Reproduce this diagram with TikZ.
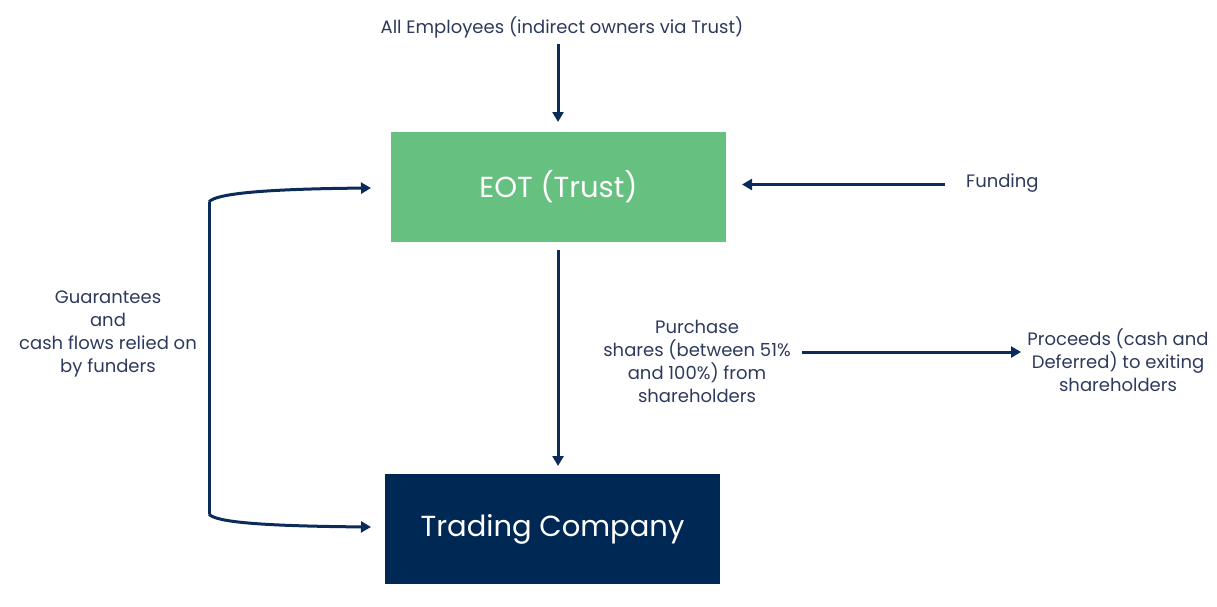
\documentclass[tikz,border=0pt]{standalone}
\usepackage{fontspec}
\setmainfont{Poppins}
\usetikzlibrary{arrows.meta}
\definecolor{navy}{HTML}{0B2C5A}
\definecolor{boxnavy}{HTML}{002855}
\definecolor{eotgreen}{HTML}{66C080}
\definecolor{txt}{HTML}{2E3A5C}
\begin{document}
\begin{tikzpicture}[x=1pt,y=-1pt,
  lbl/.style={text=txt,font=\fontsize{18}{23}\selectfont,align=center,inner sep=0pt},
  boxstyle/.style={minimum width=335pt,minimum height=110pt,inner sep=0pt,text=white,font=\fontsize{29}{32}\selectfont},
  conn/.style={draw=navy,line width=3pt,-{Triangle[length=10pt,width=11pt]}}]
\useasboundingbox (0,0) rectangle (1217,606);
\node[boxstyle,fill=eotgreen] (eot) at (558.5,187) {EOT (Trust)};
\node[boxstyle,fill=boxnavy] (tc) at (552.5,529) {Trading Company};
\node[lbl] (emp) at (562,27) {All Employees (indirect owners via Trust)};
\node[lbl,anchor=west] (fund) at (966,183) {Funding};
\node[lbl] (purch) at (697,361) {Purchase\\shares (between 51\%\\and 100\%) from\\shareholders};
\node[lbl] (proc) at (1118,360) {Proceeds (cash and\\Deferred) to exiting\\shareholders};
\node[lbl] (guar) at (108,334) {Guarantees\\and\\cash flows relied on\\by funders};
\coordinate (fundstart) at (945,184.5);
\coordinate (purchend) at (802,352);
\coordinate (bt) at (209,202);
\coordinate (bb) at (209,514);
\coordinate (et) at (371,188);
\coordinate (tt) at (371,527);
\draw[conn] (558,44) -- (558,122);
\draw[conn] (fundstart) -- (742,184.5);
\draw[conn] (558,250) -- (558,466);
\draw[conn] (purchend) -- (1021,352);
\draw[draw=navy,line width=3pt] (bt) -- (bb);
\draw[conn] (bt) .. controls (215,194) and (260,189) .. (et);
\draw[conn] (bb) .. controls (215,522) and (260,526) .. (tt);
\end{tikzpicture}
\end{document}
